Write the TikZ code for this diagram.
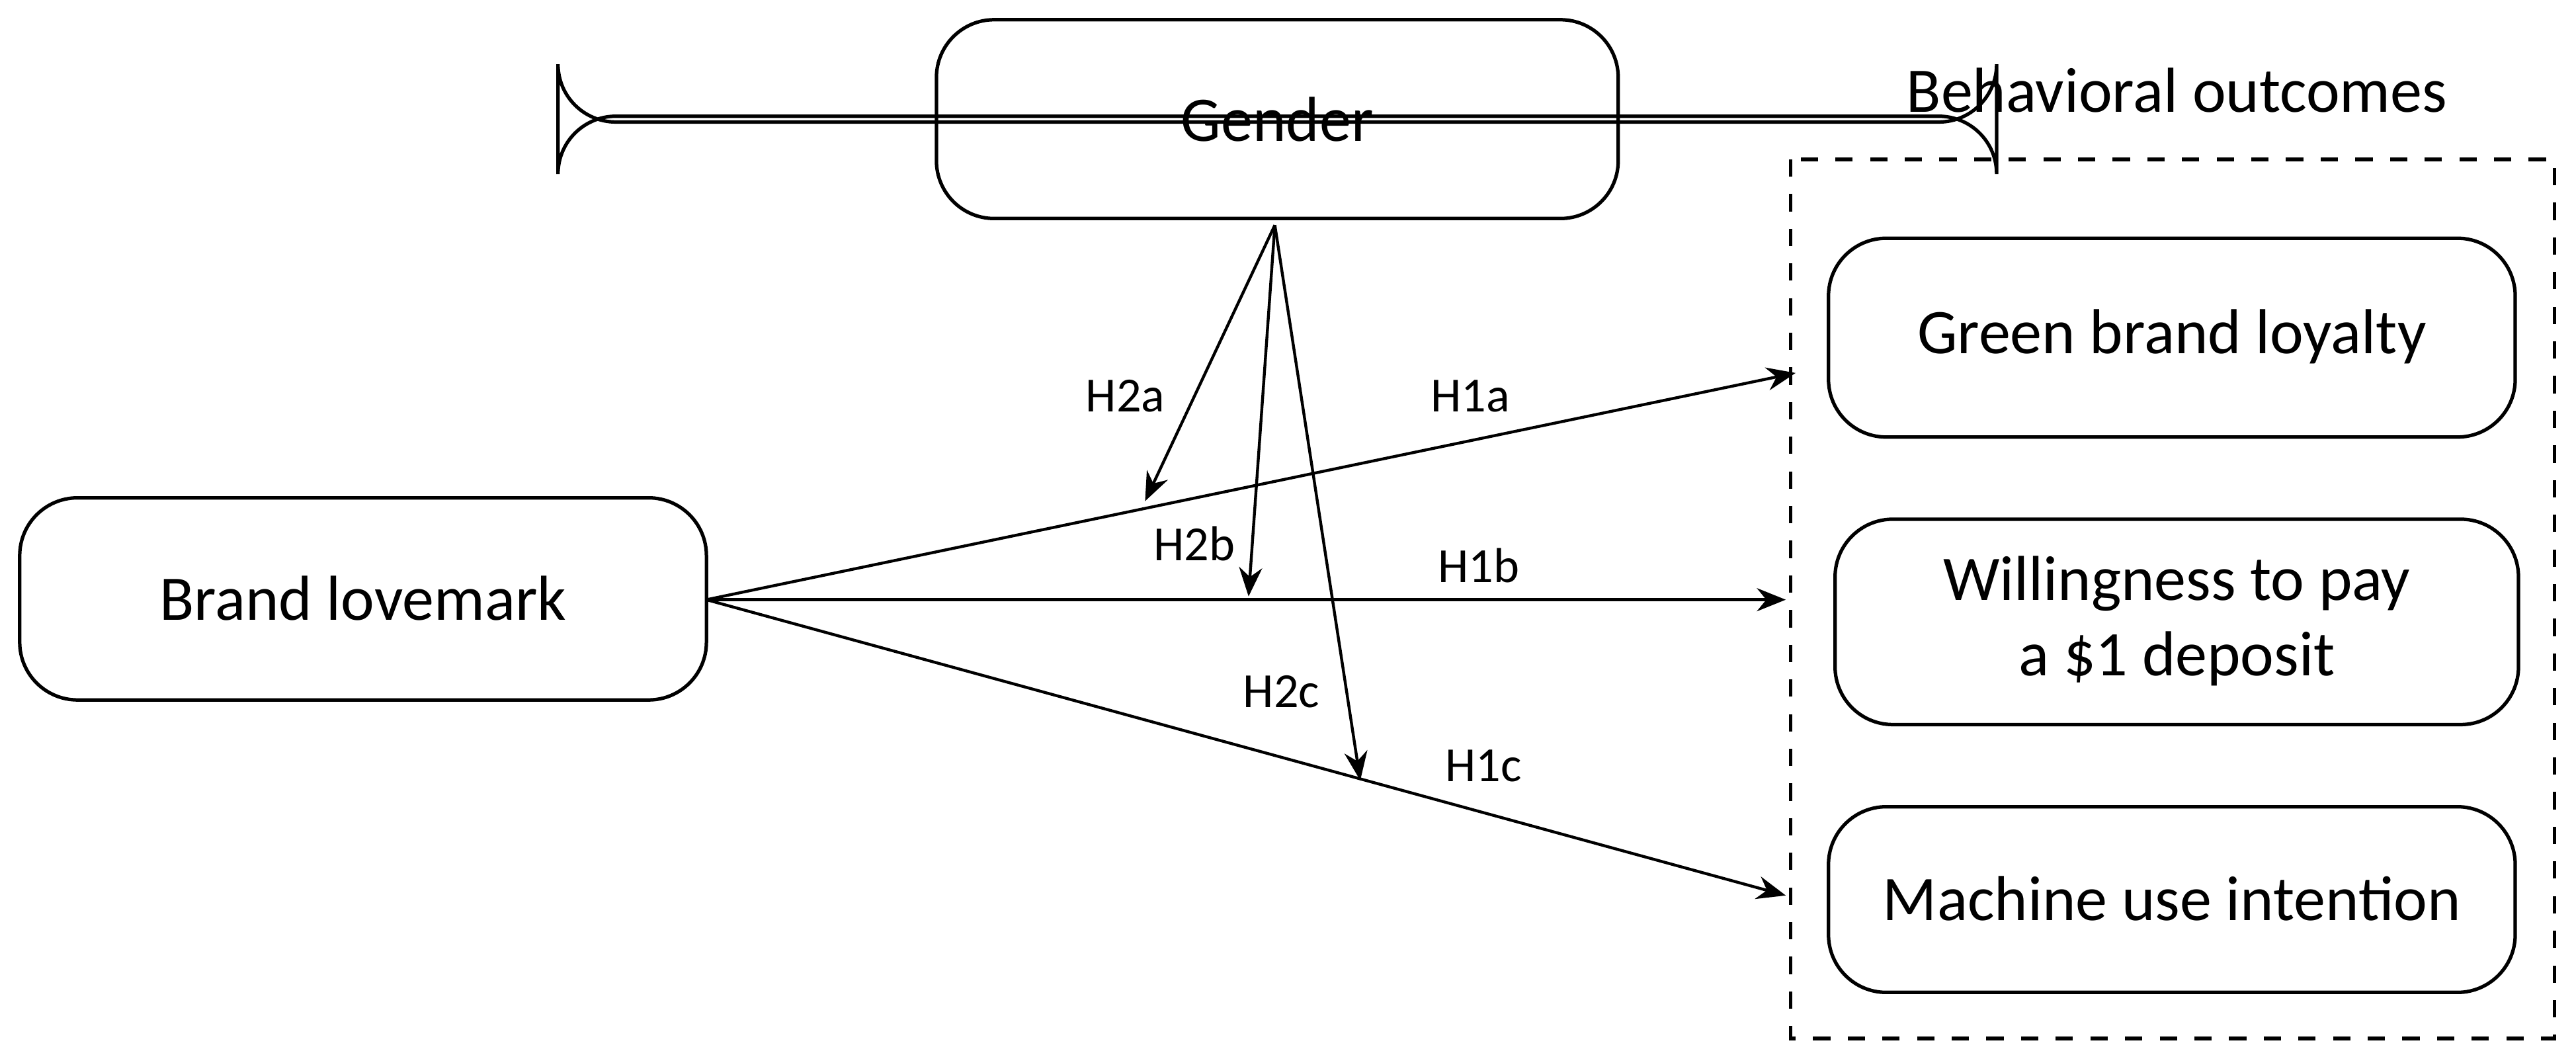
\documentclass[tikz,border=0pt]{standalone}
\usepackage{fontspec}
\setmainfont{Carlito}
\usetikzlibrary{arrows.meta}
\begin{document}
\begin{tikzpicture}[x=0.01cm,y=-0.01cm,
  box/.style={draw,rounded corners=10pt,line width=0.6pt,font=\fontsize{11}{13}\selectfont,align=center},
  lab/.style={font=\fontsize{8.5}{10}\selectfont},
  arr/.style={-{Stealth[length=5pt,width=4pt]},line width=0.5pt}]
\useasboundingbox (0,0) rectangle (1568,643);
\node[box,minimum width=415\pgflinewidth,inner sep=0pt] (g) at (777.5,72.5) {};
\draw[rounded corners=10pt,line width=0.6pt] (570,12) rectangle (985,133);
\node[font=\fontsize{11}{13}\selectfont] (gt) at (777.5,72.5) {Gender};
\draw[rounded corners=10pt,line width=0.6pt] (12,303) rectangle (430,426);
\node[font=\fontsize{11}{13}\selectfont] (bl) at (221,364) {Brand lovemark};
\draw[dashed,line width=0.6pt] (1090,97) rectangle (1555,632);
\node[font=\fontsize{11}{13}\selectfont] (bo) at (1325,55) {Behavioral outcomes};
\draw[rounded corners=10pt,line width=0.6pt] (1113,145) rectangle (1531,266);
\node[font=\fontsize{11}{13}\selectfont] (gb) at (1322,205) {Green brand loyalty};
\draw[rounded corners=10pt,line width=0.6pt] (1117,316) rectangle (1533,441);
\node[font=\fontsize{11}{13}\selectfont,align=center] (wp) at (1325,378) {Willingness to pay\\a \$1 deposit};
\draw[rounded corners=10pt,line width=0.6pt] (1113,491) rectangle (1531,604);
\node[font=\fontsize{11}{13}\selectfont] (mu) at (1322,547) {Machine use intention};
\coordinate (s) at (430,365);
\coordinate (ga) at (1093,227);
\coordinate (wa) at (1087,365);
\coordinate (ma) at (1087,545);
\coordinate (gs) at (776,137);
\coordinate (e1) at (697,305);
\coordinate (e2) at (760,363);
\coordinate (e3) at (828,475);
\draw[arr] (s) -- (ga);
\draw[arr] (s) -- (wa);
\draw[arr] (s) -- (ma);
\draw[arr] (gs) -- (e1);
\draw[arr] (gs) -- (e2);
\draw[arr] (gs) -- (e3);
\node[lab] (l1) at (685,241) {H2a};
\node[lab] (l2) at (895,241) {H1a};
\node[lab] (l3) at (727,331) {H2b};
\node[lab] (l4) at (900,344) {H1b};
\node[lab] (l5) at (780,421) {H2c};
\node[lab] (l6) at (903,466) {H1c};
\end{tikzpicture}
\end{document}
